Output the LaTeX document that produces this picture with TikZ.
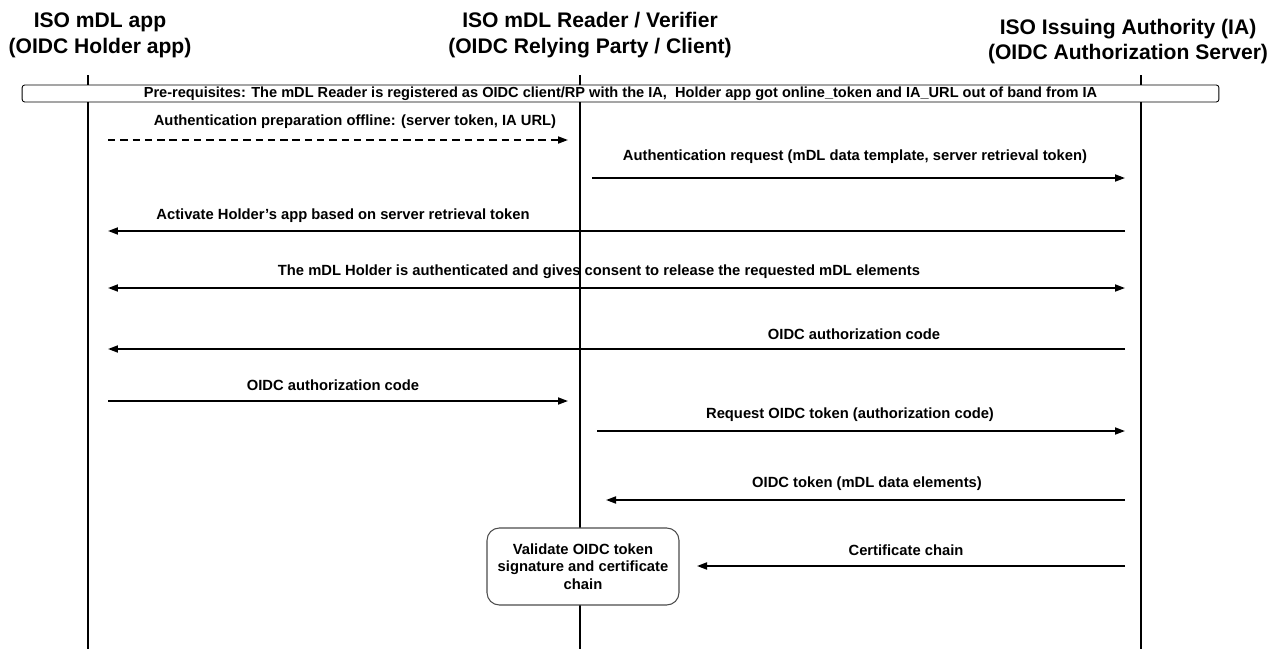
\documentclass[tikz,border=0pt]{standalone}
\usepackage{fontspec}
\setmainfont{Liberation Sans}
\usetikzlibrary{arrows.meta}

\begin{document}
\begin{tikzpicture}[x=0.02cm,y=-0.02cm,
	head/.style={align=center,font=\fontsize{12}{14.7}\selectfont\bfseries,inner sep=0pt},
	lbl/.style={font=\fontsize{8.4}{9}\selectfont\bfseries,inner sep=0pt},
	msg/.style={-{Triangle[length=2mm,width=1.4mm]},line width=1pt},
	both/.style={{Triangle[length=2mm,width=1.4mm]}-{Triangle[length=2mm,width=1.4mm]},line width=1pt}]
	\def\hx{88}
	\def\rx{580}
	\def\ix{1141}
	\useasboundingbox (0,0) rectangle (1271,649);
	% parties
	\node[head] (holder) at (100,35) {ISO mDL app\\(OIDC Holder app)};
	\node[head] (reader) at (590,35) {ISO mDL Reader / Verifier\\(OIDC Relying Party / Client)};
	\node[head] (issuer) at (1128,41.5) {ISO Issuing Authority (IA)\\(OIDC Authorization Server)};
	% lifelines
	\draw[line width=1.3pt] (\hx,75) coordinate (h0) -- (\hx,649) coordinate (h1);
	\draw[line width=1.3pt] (\rx,75) coordinate (r0) -- (\rx,649) coordinate (r1);
	\draw[line width=1.3pt] (\ix,75) coordinate (i0) -- (\ix,649) coordinate (i1);
	\node[draw,fill=white,rounded corners=1.5pt,line width=0.5pt,minimum width=23.94cm,minimum height=0.34cm,
		font=\fontsize{8.3}{9}\selectfont\bfseries,inner sep=0pt] (prereq) at (620.5,93.5)
		{Pre-requisites: The mDL Reader is registered as OIDC client/RP with the IA,~ Holder app got online\_token and IA\_URL out of band from IA};
	% messages
	\coordinate (a1) at (108,140); \coordinate (b1) at (568,140);
	\draw[msg,dash pattern=on 4.2pt off 2.8pt] (a1) -- (b1);
	\node[lbl] (t1) at (355,122) {Authentication preparation offline: (server token, IA URL)};
	\coordinate (a2) at (592,178); \coordinate (b2) at (1125,178);
	\draw[msg] (a2) -- (b2);
	\node[lbl] (t2) at (855,157) {Authentication request (mDL data template, server retrieval token)};
	\coordinate (a3) at (1125,231); \coordinate (b3) at (108,231);
	\draw[msg] (a3) -- (b3);
	\node[lbl] (t3) at (343,216) {Activate Holder's app based on server retrieval token};
	\coordinate (a4) at (108,288); \coordinate (b4) at (1125,288);
	\draw[both] (a4) -- (b4);
	\node[lbl] (t4) at (599,272) {The mDL Holder is authenticated and gives consent to release the requested mDL elements};
	\coordinate (a5) at (1125,349); \coordinate (b5) at (108,349);
	\draw[msg] (a5) -- (b5);
	\node[lbl] (t5) at (854,334) {OIDC authorization code};
	\coordinate (a6) at (108,401); \coordinate (b6) at (568,401);
	\draw[msg] (a6) -- (b6);
	\node[lbl] (t6) at (333,385) {OIDC authorization code};
	\coordinate (a7) at (597,431); \coordinate (b7) at (1125,431);
	\draw[msg] (a7) -- (b7);
	\node[lbl] (t7) at (850,415) {Request OIDC token (authorization code)};
	\coordinate (a8) at (1125,500); \coordinate (b8) at (606,500);
	\draw[msg] (a8) -- (b8);
	\node[lbl] (t8) at (867,484) {OIDC token (mDL data elements)};
	% validation
	\node[draw=black!70,fill=white,rounded corners=7pt,line width=0.6pt,minimum width=3.84cm,minimum height=1.54cm,
		align=center,font=\fontsize{8.4}{9.9}\selectfont\bfseries] (check) at (583,566.5)
		{Validate OIDC token\\signature and certificate\\chain};
	\coordinate (a9) at (1125,566); \coordinate (b9) at (697,566);
	\draw[msg] (a9) -- (b9);
	\node[lbl] (t9) at (906,550) {Certificate chain};
\end{tikzpicture}
\end{document}
